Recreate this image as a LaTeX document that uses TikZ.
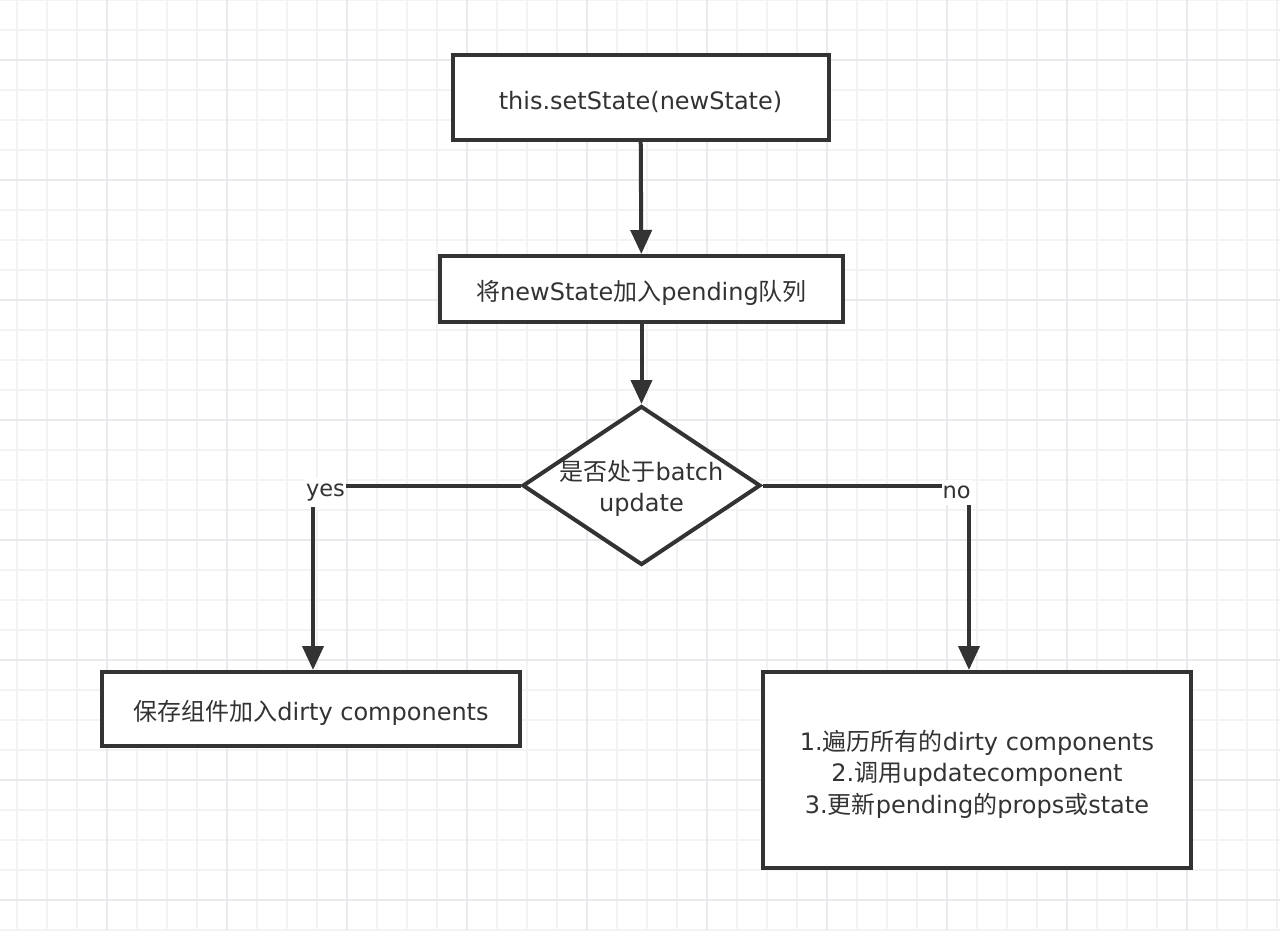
\documentclass[tikz,border=0pt]{standalone}
\usepackage{fontspec}
\setmainfont{DejaVu Sans}
\newfontfamily\cjk{Noto Sans CJK SC}
\usetikzlibrary{arrows.meta,shapes.geometric}
\definecolor{ink}{HTML}{333333}
\definecolor{gridminor}{HTML}{F3F3F3}
\definecolor{gridmajor}{HTML}{EAEAEE}
\tikzset{
  minorline/.style={gridminor,line width=1.6pt},
  majorline/.style={gridmajor,line width=2pt},
  box/.style={draw=ink,line width=4pt,fill=white,rectangle,inner sep=0pt},
  decision/.style={draw=ink,line width=4pt,fill=white,diamond,inner sep=0pt},
  label/.style={text=ink,align=center,inner sep=0pt,yshift=-4pt,
    font=\fontsize{24}{31.5}\selectfont},
  arr/.style={draw=ink,line width=4pt,-{Triangle[length=24pt,width=21pt]}},
  edgelabel/.style={fill=white,text=ink,inner xsep=1pt,inner ysep=6pt,yshift=-7pt,
    font=\fontsize{22.5}{26}\selectfont}
}
\begin{document}
\begin{tikzpicture}[x=1pt,y=-1pt]
\useasboundingbox (0,0) rectangle (1280,930);
\fill[white] (0,0) rectangle (1280,930);
\foreach \x in {17,47,...,1277} \draw[minorline] (\x,0) -- (\x,930);
\foreach \y in {0,30,...,930} \draw[minorline] (0,\y) -- (1280,\y);
\foreach \x in {107,227,...,1277} \draw[majorline] (\x,0) -- (\x,930);
\foreach \y in {60,180,...,930} \draw[majorline] (0,\y) -- (1280,\y);

\node[box,minimum width=376pt,minimum height=85pt] (b1) at (640.5,97.5) {};
\node[label] (t1) at (b1) {this.setState(newState)};
\node[box,minimum width=403pt,minimum height=66pt] (b2) at (641.5,289) {};
\node[label] (t2) at (b2) {{\cjk 将}newState{\cjk 加入}pending{\cjk 队列}};
\node[decision,minimum width=238pt,minimum height=159pt] (dec) at (641.5,485.5) {};
\node[label,yshift=1pt] (t3) at (dec) {{\cjk 是否处于}batch\\update};
\node[box,minimum width=418pt,minimum height=74pt] (b3) at (311,709) {};
\node[label] (t4) at (b3) {{\cjk 保存组件加入}dirty components};
\node[box,minimum width=428pt,minimum height=196pt] (b4) at (977,770) {};
\node[label] (t5) at (b4) {1.{\cjk 遍历所有的}dirty components\\2.{\cjk 调用}updatecomponent\\3.{\cjk 更新}pending{\cjk 的}props{\cjk 或}state};

\draw[arr] (b1) -- (b2);
\draw[arr] (b2) -- (dec);
\draw[arr] (dec.west) -| ([xshift=2]b3.north) node[edgelabel,pos=0.47] (yes) {yes};
\draw[arr] (dec.east) -| ([xshift=-8]b4.north) node[edgelabel,pos=0.47] (no) {no};
\end{tikzpicture}
\end{document}
